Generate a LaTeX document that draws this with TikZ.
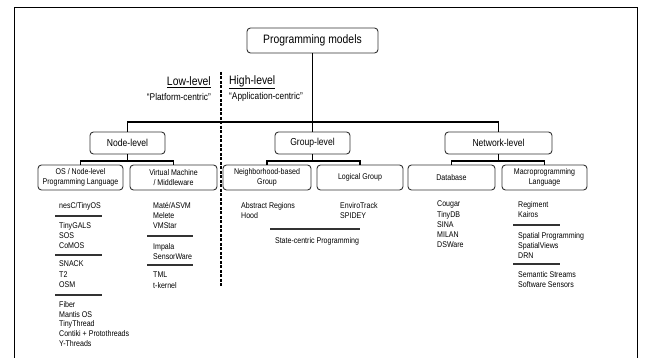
\documentclass[tikz,border=0pt]{standalone}
\usepackage{fontspec}
\setmainfont{Liberation Sans}[FakeStretch=0.85]
\newcommand{\itemfont}{\fontsize{8.3}{10.2}\selectfont}
\begin{document}
\begin{tikzpicture}[x=1pt,y=-1pt,
  box/.style={draw=black!80, line width=0.9pt, rounded corners=3.5pt, align=center,
    minimum height=22pt, inner sep=1pt, font=\fontsize{10.1}{12}\selectfont},
  subbox/.style={box, minimum height=25pt, font=\fontsize{8.3}{9.6}\selectfont},
  item/.style={anchor=north west, align=left, inner sep=0pt, font=\itemfont},
  link/.style={line width=1.3pt},
  rule/.style={line width=1.2pt, black!80}]
  \useasboundingbox (0,0) rectangle (646,358);
  % frame, open at the bottom
  \draw[line width=1pt] (14,358) -- (14,8) -- (637,8) -- (637,358);
  % root and the three levels
  \node[box, minimum width=131pt, minimum height=25pt, font=\fontsize{12.2}{14}\selectfont]
    (pm) at (312.5,40.5) {Programming models};
  \node[box, minimum width=75pt] (nodelvl) at (127.5,143) {Node-level};
  \node[box, minimum width=75pt] (grouplvl) at (312.5,143) {Group-level};
  \node[box, minimum width=107pt] (netlvl) at (498.5,143) {Network-level};
  % second row of boxes
  \node[subbox, minimum width=85pt] (os) at (80.5,177.5) {OS / Node-level\\Programming Language};
  \node[subbox, minimum width=87pt] (vm) at (173.5,177.5) {Virtual Machine\\/ Middleware};
  \node[subbox, minimum width=88pt] (nbhood) at (267,177.5) {Neighborhood-based\\Group};
  \node[subbox, minimum width=86pt] (logical) at (360,177.5) {Logical Group};
  \node[subbox, minimum width=87pt] (db) at (451.5,177.5) {Database};
  \node[subbox, minimum width=85pt] (macro) at (544.5,177.5) {Macroprogramming\\Language};
  % tree lines
  \coordinate (bar) at (312.5,122);
  \coordinate (nodej) at (127.5,161);
  \coordinate (groupj) at (312.5,161);
  \coordinate (netj) at (498.5,161);
  \draw[link] (pm) -- (grouplvl);
  \draw[link] (nodelvl.north) |- (bar) -| (netlvl.north);
  \draw[link] (nodelvl) -- (nodej);
  \draw[link] (os.north) |- (nodej) -| (vm.north);
  \draw[link] (grouplvl) -- (groupj);
  \draw[link] (nbhood.north) |- (groupj) -| (logical.north);
  \draw[link] (netlvl) -- (netj);
  \draw[link] (db.north) |- (netj) -| (macro.north);
  % low-level / high-level split
  \draw[line width=1.2pt, dash pattern=on 3pt off 1.5pt] (221,72) -- (221,287);
  \node[anchor=east, inner sep=0pt, font=\fontsize{12.2}{14}\selectfont] (low) at (211,82) {\underline{Low-level}};
  \node[anchor=east, inner sep=0pt, font=\fontsize{9.8}{11}\selectfont] (lowq) at (211,97) {``Platform-centric''};
  \node[anchor=west, inner sep=0pt, font=\fontsize{12.2}{14}\selectfont] (high) at (229,82) {\underline{High-level}};
  \node[anchor=west, inner sep=0pt, font=\fontsize{9.8}{11}\selectfont] (highq) at (229,97) {``Application-centric''};
  % OS / language column
  \node[item] (nesc) at (59,202) {nesC/TinyOS};
  \draw[rule] (55,216) -- (102,216);
  \node[item] (tinygals) at (59,222) {TinyGALS\\SOS\\CoMOS};
  \draw[rule] (55,255) -- (102,255);
  \node[item] (snack) at (59,261) {SNACK\\T2\\OSM};
  \draw[rule] (55,295) -- (102,295);
  \node[item, font=\fontsize{8.3}{9.8}\selectfont] (fiber) at (59,301)
    {Fiber\\Mantis OS\\TinyThread\\Contiki + Protothreads\\Y-Threads};
  % virtual machine column
  \node[item] (mate) at (153,202) {Mat\'e/ASVM\\Melete\\VMStar};
  \draw[rule] (147,236) -- (193,236);
  \node[item] (impala) at (153,243) {Impala\\SensorWare};
  \draw[rule] (147,265) -- (193,265);
  \node[item] (tml) at (153,272) {TML\\t-kernel};
  % group columns
  \node[item] (absreg) at (241,202) {Abstract Regions\\Hood};
  \node[item] (enviro) at (340,202) {EnviroTrack\\SPIDEY};
  \draw[rule] (270,229) -- (360,229);
  \node[inner sep=0pt, font=\itemfont] (statec) at (317,241) {State-centric Programming};
  % database column
  \node[item] (cougar) at (437,201) {Cougar\\TinyDB\\SINA\\MILAN\\DSWare};
  % macroprogramming column
  \node[item] (regiment) at (518,201) {Regiment\\Kairos};
  \draw[rule] (513,225) -- (560,225);
  \node[item] (spatial) at (518,232) {Spatial Programming\\SpatialViews\\DRN};
  \draw[rule] (513,264) -- (560,264);
  \node[item] (semantic) at (518,271) {Semantic Streams\\Software Sensors};
\end{tikzpicture}
\end{document}
